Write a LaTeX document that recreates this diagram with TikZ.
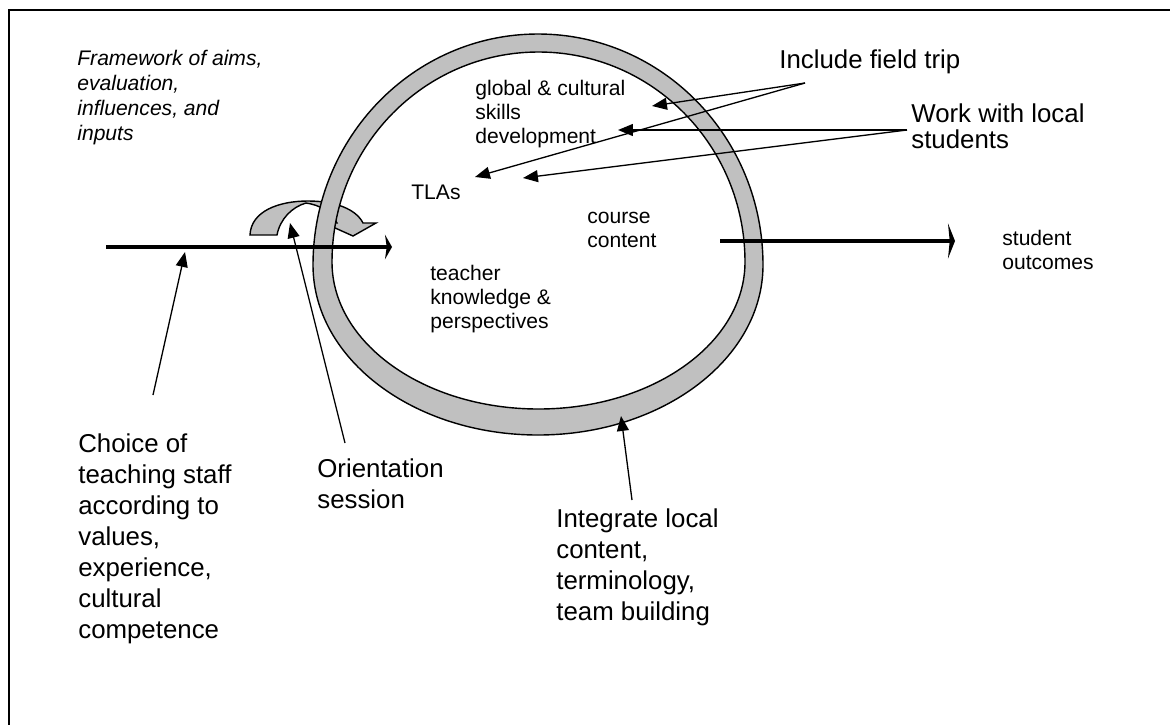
\documentclass[tikz,border=0pt]{standalone}
\usepackage{fontspec}
\setmainfont{Liberation Sans}
\usetikzlibrary{arrows.meta}
\definecolor{ringgray}{RGB}{192,192,192}

\begin{document}
\begin{tikzpicture}[x=0.02cm, y=-0.02cm,
    % text nodes are placed at the baseline of their last line
    small/.style={anchor=base west, inner sep=0pt, align=left, font=\fontsize{12}{13.6}\selectfont},
    big/.style={anchor=base west, inner sep=0pt, align=left, font=\fontsize{14.7}{17.6}\selectfont},
    pointer/.style={line width=0.75pt, -{Triangle[length=8.5pt,width=6.8pt]}},
    flow/.style={line width=2.8pt, -{Stealth[length=4pt,width=14pt,inset=1pt]}}]
    \useasboundingbox (0,0) rectangle (1170,724);

    % Frame
    \draw[line width=0.8pt] (9,740) -- (9,10) -- (1190,10);
    \node[small, font=\fontsize{12}{14.2}\selectfont\itshape] (frame) at (77,140)
        {Framework of aims,\\evaluation,\\influences, and\\inputs};

    % Orientation symbol (behind the ring)
    \draw[line width=0.8pt, fill=ringgray]
        (250,235) .. controls (251,211) and (279,201) .. (308,201)
        .. controls (335,201) and (356,209) .. (363,223)
        -- (376,223) -- (353,236) -- (324,223) -- (337,223)
        .. controls (332,212) and (320,205) .. (306,203)
        .. controls (292,207) and (280,219) .. (277,235) -- cycle;

    % Ring
    \draw[line width=0.8pt, fill=ringgray, even odd rule]
        (313,265) arc[start angle=180, end angle=360, x radius=225, y radius=231]
        arc[start angle=0, end angle=180, x radius=225, y radius=170] -- cycle
        (332,262) arc[start angle=180, end angle=360, x radius=206.5, y radius=210]
        arc[start angle=0, end angle=180, x radius=206.5, y radius=147] -- cycle;

    % Inputs and outcomes
    \coordinate (inL) at (106,247);
    \coordinate (inR) at (392,247);
    \coordinate (outL) at (720,241);
    \coordinate (outR) at (955,241);
    \draw[flow] (inL) -- (inR);
    \draw[flow, -{Stealth[length=4pt,width=20pt,inset=1pt]}] (outL) -- (outR);

    % Labels inside the ring
    \node[small] (glob) at (475,143) {global \& cultural\\skills\\development};
    \node[small] (tlas) at (411,199) {TLAs};
    \node[small] (course) at (587,247) {course\\content};
    \node[small] (teacher) at (430,328) {teacher\\knowledge \&\\perspectives};
    \node[small] (student) at (1002,269) {student\\outcomes};

    % Interventions
    \node[big] (trip) at (779,68) {Include field trip};
    \node[big, font=\fontsize{14.7}{14.7}\selectfont] (work) at (911,148) {Work with local\\students};
    \node[big] (choice) at (78,638) {Choice of\\teaching staff\\according to\\values,\\experience,\\cultural\\competence};
    \node[big] (orient) at (317,508) {Orientation\\session};
    \node[big] (integ) at (556,620) {Integrate local\\content,\\terminology,\\team building};

    % Pointers
    \coordinate (tripO) at (805,83);
    \coordinate (workO) at (907,130);
    \coordinate (choiceO) at (153,395);
    \coordinate (orientO) at (345,443);
    \coordinate (integO) at (632,500);
    \coordinate (tGlob) at (652,106);
    \coordinate (tTla) at (475,177);
    \coordinate (tDev) at (618,130);
    \coordinate (tTla2) at (523,178);
    \coordinate (tStaff) at (185,252);
    \coordinate (tOrient) at (290,223);
    \coordinate (tRing) at (621,416);
    \foreach \a/\b in {tripO/tGlob, tripO/tTla, workO/tDev, workO/tTla2,
                       choiceO/tStaff, orientO/tOrient, integO/tRing}
        \draw[pointer] (\a) -- (\b);
\end{tikzpicture}
\end{document}
